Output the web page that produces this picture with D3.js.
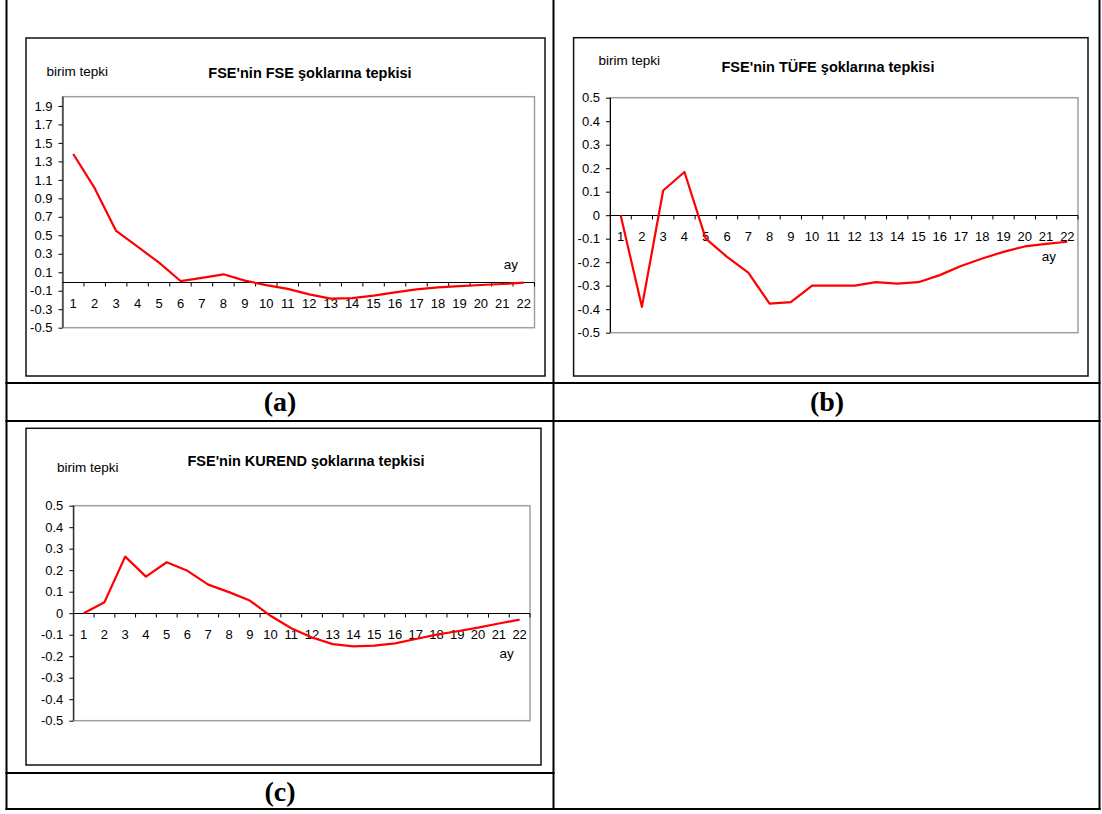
<!DOCTYPE html>
<html><head><meta charset="utf-8">
<script src="https://cdn.jsdelivr.net/npm/d3@7"></script>
<style>
body{margin:0;background:#fff}
svg{display:block}
text{font-family:"Liberation Sans",Arial,sans-serif;fill:#000}
</style>
</head><body><svg id="c" width="1102" height="814"></svg>
<script>
const categories = ["1","2","3","4","5","6","7","8","9","10","11","12","13","14","15","16","17","18","19","20","21","22"];
const fseShock = [1.38,1.01,0.547,0.377,0.204,0.005,0.04,0.078,0.01,-0.04,-0.08,-0.14,-0.186,-0.18,-0.153,-0.117,-0.085,-0.063,-0.049,-0.038,-0.027,-0.013];
const tufeShock = [0,-0.39,0.105,0.184,-0.10,-0.177,-0.244,-0.376,-0.370,-0.30,-0.30,-0.30,-0.285,-0.291,-0.285,-0.255,-0.216,-0.184,-0.156,-0.133,-0.122,-0.113];
const kurendShock = [0,0.051,0.263,0.17,0.237,0.197,0.133,0.098,0.059,-0.012,-0.07,-0.113,-0.144,-0.154,-0.151,-0.14,-0.12,-0.10,-0.084,-0.067,-0.048,-0.03];
const yTicksA = [-0.5,-0.3,-0.1,0.1,0.3,0.5,0.7,0.9,1.1,1.3,1.5,1.7,1.9];
const yTicksBC = [-0.5,-0.4,-0.3,-0.2,-0.1,0,0.1,0.2,0.3,0.4,0.5];
const titles = ["FSE'nin FSE şoklarına tepkisi","FSE'nin TÜFE şoklarına tepkisi","FSE'nin KUREND şoklarına tepkisi"];
const panelLabels = ["(a)","(b)","(c)"];
const yLabel = "birim tepki";
const xLabel = "ay";

const panels = [
  {values: fseShock, ticks: yTicksA, domain: [-0.5, 2.0], title: titles[0], label: panelLabels[0],
   box: [26, 38, 545, 376], plot: [62.5, 96.7, 534.5, 327.7],
   titlePos: [310, 72.7], yLabPos: [46.4, 71], xLabPos: [511, 264], labelPos: [280, 411]},
  {values: tufeShock, ticks: yTicksBC, domain: [-0.5, 0.5], title: titles[1], label: panelLabels[1],
   box: [573.6, 37.7, 1088, 376], plot: [610, 97.7, 1078, 332.7],
   titlePos: [828, 66.7], yLabPos: [598.6, 60], xLabPos: [1049, 256.7], labelPos: [827, 411]},
  {values: kurendShock, ticks: yTicksBC, domain: [-0.5, 0.5], title: titles[2], label: panelLabels[2],
   box: [26, 428.3, 541, 765], plot: [73.3, 505.7, 530, 720.7],
   titlePos: [306, 461], yLabPos: [57, 467.7], xLabPos: [506.7, 653.3], labelPos: [280, 801]}
];

const svg = d3.select("#c");
const fmt = d => (d === 0 ? "0" : (d < 0 ? "-" : "") + Math.abs(d).toFixed(1));

panels.forEach(p => {
  const g = svg.append("g");
  const [bx0, by0, bx1, by1] = p.box;
  g.append("rect").attr("x", bx0).attr("y", by0).attr("width", bx1 - bx0).attr("height", by1 - by0)
    .attr("fill", "#fff").attr("stroke", "#111").attr("stroke-width", 1.5);
  const [px0, py0, px1, py1] = p.plot;
  g.append("rect").attr("x", px0).attr("y", py0).attr("width", px1 - px0).attr("height", py1 - py0)
    .attr("fill", "#fff").attr("stroke", "#a0a0a0").attr("stroke-width", 1.5);

  const x = d3.scaleBand().domain(categories).range([px0, px1]).padding(0);
  const y = d3.scaleLinear().domain(p.domain).range([py1, py0]);
  const cx = c => x(c) + x.bandwidth() / 2;

  // y axis
  const ya = g.append("g").attr("transform", `translate(${px0},0)`)
    .call(d3.axisLeft(y).tickValues(p.ticks).tickFormat(fmt).tickSize(4).tickPadding(6).tickSizeOuter(0));
  ya.select(".domain").attr("stroke", "#000").attr("d", `M0.5,${py0}V${py1}`);
  ya.selectAll(".tick line").attr("stroke", "#000");
  ya.selectAll(".tick text").attr("font-size", 13).attr("font-family", "Liberation Sans, Arial, sans-serif");

  // x axis at zero
  const y0 = Math.round(y(0)) + 0.5;
  g.append("line").attr("x1", px0).attr("x2", px1).attr("y1", y0).attr("y2", y0).attr("stroke", "#000").attr("stroke-width", 1.2);
  const bounds = categories.map(c => x(c)).concat([x(categories[categories.length - 1]) + x.bandwidth()]);
  g.selectAll(".xt").data(bounds.slice(1)).join("line")
    .attr("x1", d => d).attr("x2", d => d).attr("y1", y0).attr("y2", y0 + 4)
    .attr("stroke", "#000").attr("stroke-width", 1);
  g.selectAll(".xl").data(categories).join("text")
    .attr("x", d => cx(d)).attr("y", y0 + 21).attr("text-anchor", "middle")
    .attr("dominant-baseline", "central").attr("font-size", 13).text(d => d);

  // line
  const line = d3.line().x((d, i) => cx(categories[i])).y(d => y(d));
  g.append("path").datum(p.values).attr("d", line).attr("fill", "none")
    .attr("stroke", "#ff0000").attr("stroke-width", 2.2).attr("stroke-linejoin", "round");

  // texts
  g.append("text").attr("x", p.titlePos[0]).attr("y", p.titlePos[1]).attr("text-anchor", "middle")
    .attr("dominant-baseline", "central").attr("font-size", 14.5).attr("font-weight", "bold").text(p.title);
  g.append("text").attr("x", p.yLabPos[0]).attr("y", p.yLabPos[1])
    .attr("dominant-baseline", "central").attr("font-size", 13.5).text(yLabel);
  g.append("text").attr("x", p.xLabPos[0]).attr("y", p.xLabPos[1]).attr("text-anchor", "middle")
    .attr("dominant-baseline", "central").attr("font-size", 13.5).text(xLabel);
  svg.append("text").attr("x", p.labelPos[0]).attr("y", p.labelPos[1]).attr("text-anchor", "middle")
    .attr("font-size", 28).attr("font-weight", "bold")
    .style("font-family", "'Liberation Serif','Times New Roman',serif").text(p.label);
});

// table lines
const tbl = svg.append("g").attr("stroke", "#000").attr("stroke-width", 2);
[[6.5, 0, 6.5, 810], [553.5, 0, 553.5, 810], [1099.5, 0, 1099.5, 810],
 [5.5, 383, 1100.5, 383], [5.5, 421, 1100.5, 421], [5.5, 773, 554.5, 773], [5.5, 809, 1100.5, 809]]
  .forEach(l => tbl.append("line").attr("x1", l[0]).attr("y1", l[1]).attr("x2", l[2]).attr("y2", l[3]));
</script>
</body></html>
